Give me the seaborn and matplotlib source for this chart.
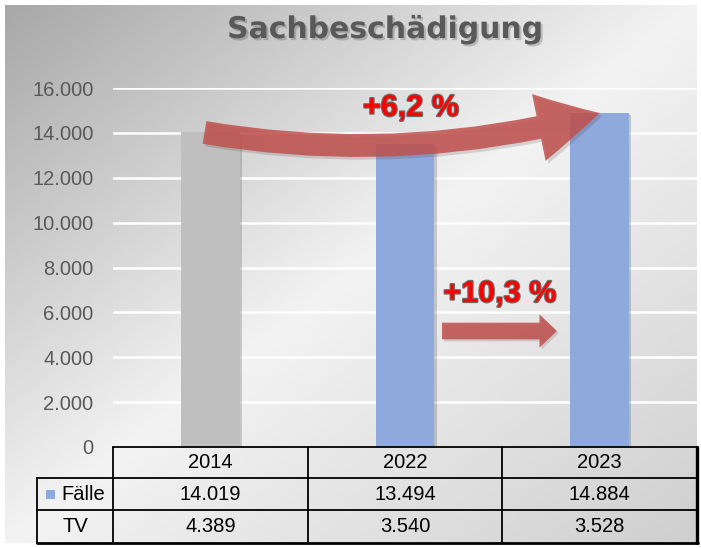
import numpy as np
import pandas as pd
import matplotlib
matplotlib.use("Agg")
import matplotlib.pyplot as plt
import seaborn as sns
from matplotlib.patches import FancyArrowPatch, Rectangle
from matplotlib.lines import Line2D
import matplotlib.patheffects as pe
from matplotlib.colors import LinearSegmentedColormap

# ---------------- data ----------------
title = "Sachbeschädigung"
years = ["2014", "2022", "2023"]
faelle = [14019, 13494, 14884]
tv = [4389, 3540, 3528]
row_labels = ["Fälle", "TV"]
change_total = "+6,2 %"
change_year = "+10,3 %"
yticks = [0, 2000, 4000, 6000, 8000, 10000, 12000, 14000, 16000]

GRAY = "#bfbfbf"
BLUE = "#8eaadc"
ARROW = "#c0504d"


def fmt(v):
    return f"{v:,}".replace(",", ".")


sns.set_theme(style="white")
plt.rcParams["font.family"] = ["Liberation Sans", "DejaVu Sans"]

W, H = 701, 548
fig = plt.figure(figsize=(W / 100, H / 100), dpi=100)
fig.patch.set_facecolor("white")


def fx(px):
    return px / W


def fy(py):
    return 1 - py / H


# ---------------- gradient background panel ----------------
bg = fig.add_axes([fx(5), fy(543), fx(697) - fx(5), fy(5) - fy(543)], zorder=0)
gx, gy = np.meshgrid(np.linspace(0, 1, 500), np.linspace(0, 1, 400))
tt = (gx + gy) / 2
cmap = LinearSegmentedColormap.from_list(
    "bg", [(0.0, "#a8a8a8"), (0.5, "#f3f3f3"), (1.0, "#cfcfcf")])
bg.imshow(tt, cmap=cmap, vmin=0, vmax=1, aspect="auto", origin="upper",
          extent=(0, 1, 0, 1), interpolation="bilinear")
bg.axis("off")

# ---------------- main axes ----------------
ax = fig.add_axes([fx(113), fy(447), fx(697) - fx(113), fy(88) - fy(447)], zorder=2)
ax.set_facecolor("none")
df = pd.DataFrame({"Jahr": years, "Fälle": faelle})
sns.barplot(data=df, x="Jahr", y="Fälle", hue="Jahr",
            palette=[GRAY, BLUE, BLUE], width=0.303, saturation=1,
            legend=False, ax=ax, zorder=3)
for p in ax.patches:
    p.set_linewidth(0)
    p.set_path_effects([pe.SimplePatchShadow(offset=(1.5, -1.5), alpha=0.22),
                        pe.Normal()])

ax.set_xlim(-0.5, 2.5)
ax.set_ylim(0, 16000)
ax.set_yticks(yticks)
ax.set_yticklabels([fmt(v) for v in yticks])
ax.tick_params(axis="y", length=0, pad=14, labelsize=14.5, labelcolor="#595959")
ax.tick_params(axis="x", length=0, labelbottom=False)
ax.set_xlabel("")
ax.set_ylabel("")
ax.grid(axis="y", color="white", lw=1.8)
ax.grid(axis="x", visible=False)
ax.set_axisbelow(True)
for s in ax.spines.values():
    s.set_visible(False)

# ---------------- arrows ----------------
arr1 = FancyArrowPatch((-0.03, faelle[0]), (2.0, faelle[2]),
                       connectionstyle="arc3,rad=0.11",
                       arrowstyle="simple,head_length=45,head_width=49,tail_width=16.5",
                       mutation_scale=1, color=ARROW, alpha=0.85, lw=0,
                       shrinkA=0, shrinkB=0, zorder=5, clip_on=False)
arr1.set_path_effects([pe.SimplePatchShadow(offset=(2, -2), alpha=0.15), pe.Normal()])
ax.add_patch(arr1)

arr2 = FancyArrowPatch((1.19, 5170), (1.78, 5170),
                       arrowstyle="simple,head_length=12.5,head_width=24,tail_width=12",
                       mutation_scale=1, color=ARROW, alpha=0.85, lw=0,
                       shrinkA=0, shrinkB=0, zorder=5, clip_on=False)
arr2.set_path_effects([pe.SimplePatchShadow(offset=(1.5, -1.5), alpha=0.15), pe.Normal()])
ax.add_patch(arr2)

txt_fx = [pe.withStroke(linewidth=1.6, foreground="#6e6e6e")]
ax.text(1.03, 15107, change_total, ha="center", va="center", fontsize=22,
        fontweight="bold", color="#ff0000", path_effects=txt_fx, zorder=6)
ax.text(1.487, 6818, change_year, ha="center", va="center", fontsize=22,
        fontweight="bold", color="#ff0000", path_effects=txt_fx, zorder=6)

# ---------------- title ----------------
fig.text(fx(385), fy(38), title, ha="center", va="baseline", fontsize=21.5,
         fontweight="bold", color="#595959", family=["DejaVu Sans"],
         path_effects=[pe.withSimplePatchShadow(offset=(1.5, -1.5), shadow_rgbFace="black",
                                                alpha=0.18)], zorder=5)

# ---------------- data table ----------------
col_edges = [113 + k * (697 - 113) / 3 for k in range(4)]
rows_y = [447, 478, 510, 543]
label_left = 37


def hline(y, x0, x1, lw=1.3):
    fig.add_artist(Line2D([fx(x0), fx(x1)], [fy(y), fy(y)], color="black", lw=lw,
                          transform=fig.transFigure, zorder=4))


def vline(x, y0, y1, lw=1.3):
    fig.add_artist(Line2D([fx(x), fx(x)], [fy(y0), fy(y1)], color="black", lw=lw,
                          transform=fig.transFigure, zorder=4))


hline(rows_y[0], col_edges[0], col_edges[-1])
hline(rows_y[1], label_left, col_edges[-1])
hline(rows_y[2], label_left, col_edges[-1])
hline(rows_y[3], label_left, col_edges[-1] + 1, lw=2)
vline(label_left, rows_y[1], rows_y[3])
for k, xe in enumerate(col_edges):
    vline(xe, rows_y[0], rows_y[3], lw=2.4 if k == 3 else 1.3)

centers = [(col_edges[k] + col_edges[k + 1]) / 2 for k in range(3)]
row_mid = [(rows_y[k] + rows_y[k + 1]) / 2 for k in range(3)]
for k in range(3):
    fig.text(fx(centers[k]), fy(row_mid[0]), years[k], ha="center", va="center",
             fontsize=14.5, color="black", zorder=5)
    fig.text(fx(centers[k]), fy(row_mid[1]), fmt(faelle[k]), ha="center", va="center",
             fontsize=14.5, color="black", zorder=5)
    fig.text(fx(centers[k]), fy(row_mid[2]), fmt(tv[k]), ha="center", va="center",
             fontsize=14.5, color="black", zorder=5)

fig.add_artist(Rectangle((fx(46), fy(499)), fx(9), 9 / H, facecolor=BLUE,
                         edgecolor="none", transform=fig.transFigure, zorder=5))
fig.text(fx(61), fy(row_mid[1]), row_labels[0], ha="left", va="center",
         fontsize=14.5, color="black", zorder=5)
fig.text(fx(75), fy(row_mid[2]), row_labels[1], ha="center", va="center",
         fontsize=14.5, color="black", zorder=5)

fig.savefig("out.png", dpi=100)
